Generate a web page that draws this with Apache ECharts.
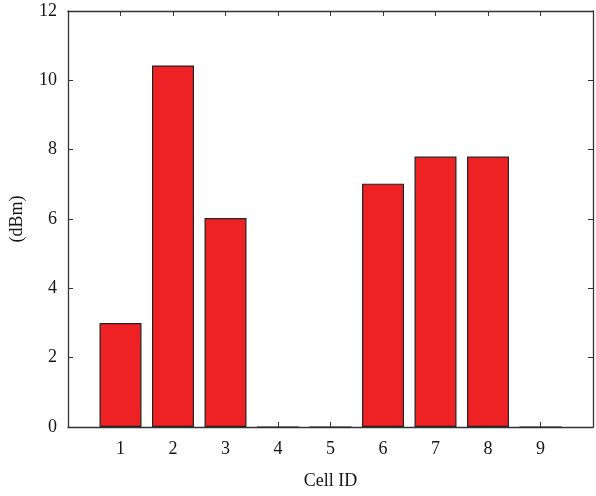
<!DOCTYPE html>
<html>
<head>
<meta charset="utf-8">
<script src="https://cdn.jsdelivr.net/npm/echarts@6/dist/echarts.min.js"></script>
<style>html,body{margin:0;padding:0;background:#fff;}#c{width:596px;height:496px;}</style>
</head>
<body>
<div id="c"></div>
<script>
var categories = ['', '1', '2', '3', '4', '5', '6', '7', '8', '9', ''];
var values = [null, 3.0, 10.43, 6.03, 0, 0, 7.02, 7.8, 7.8, 0, null];
var yTicks = [0, 2, 4, 6, 8, 10, 12];

var font = 'Liberation Serif';
var axisColor = '#333';
var textColor = '#151515';
var chart = echarts.init(document.getElementById('c'), null, {renderer: 'canvas'});
var tickShow = function (idx) { return idx > 0 && idx < categories.length - 1; };
chart.setOption({
  animation: false,
  grid: {left: 67, top: 11, right: 1, bottom: 69, show: false},
  xAxis: [{
    type: 'category', data: categories, boundaryGap: false,
    name: 'Cell ID', nameLocation: 'middle', nameGap: 45,
    nameTextStyle: {fontFamily: font, fontSize: 18, color: textColor},
    axisLine: {show: true, onZero: false, lineStyle: {color: axisColor, width: 1.3}},
    axisTick: {show: true, inside: true, length: 5, interval: function (i) { return tickShow(i); }, lineStyle: {color: axisColor}},
    axisLabel: {fontFamily: font, fontSize: 18, color: textColor, margin: 13, interval: 0},
    splitLine: {show: false}
  }, {
    type: 'category', data: categories, boundaryGap: false, position: 'top',
    axisLine: {show: true, onZero: false, lineStyle: {color: axisColor, width: 1.3}},
    axisTick: {show: true, inside: true, length: 5, interval: function (i) { return tickShow(i); }, lineStyle: {color: axisColor}},
    axisLabel: {show: false}, splitLine: {show: false}
  }],
  yAxis: [{
    type: 'value', min: 0, max: 12, interval: 2,
    name: '(dBm)', nameLocation: 'middle', nameGap: 42, nameRotate: 90,
    nameTextStyle: {fontFamily: font, fontSize: 18, color: textColor},
    axisLine: {show: true, onZero: false, lineStyle: {color: axisColor, width: 1.3}},
    axisTick: {show: true, inside: true, length: 5, lineStyle: {color: axisColor}},
    axisLabel: {fontFamily: font, fontSize: 18, color: textColor, margin: 11,
      formatter: function (v) { return yTicks.indexOf(v) >= 0 ? String(v) : ''; }},
    splitLine: {show: false}
  }, {
    type: 'value', min: 0, max: 12, interval: 2, position: 'right',
    axisLine: {show: true, onZero: false, lineStyle: {color: axisColor, width: 1.3}},
    axisTick: {show: true, inside: true, length: 5, lineStyle: {color: axisColor}},
    axisLabel: {show: false}, splitLine: {show: false}
  }],
  series: [{
    type: 'bar', data: values, barWidth: '80%',
    itemStyle: {color: '#EE2225', borderColor: '#222', borderWidth: 1.2}
  }]
});
</script>
</body>
</html>
